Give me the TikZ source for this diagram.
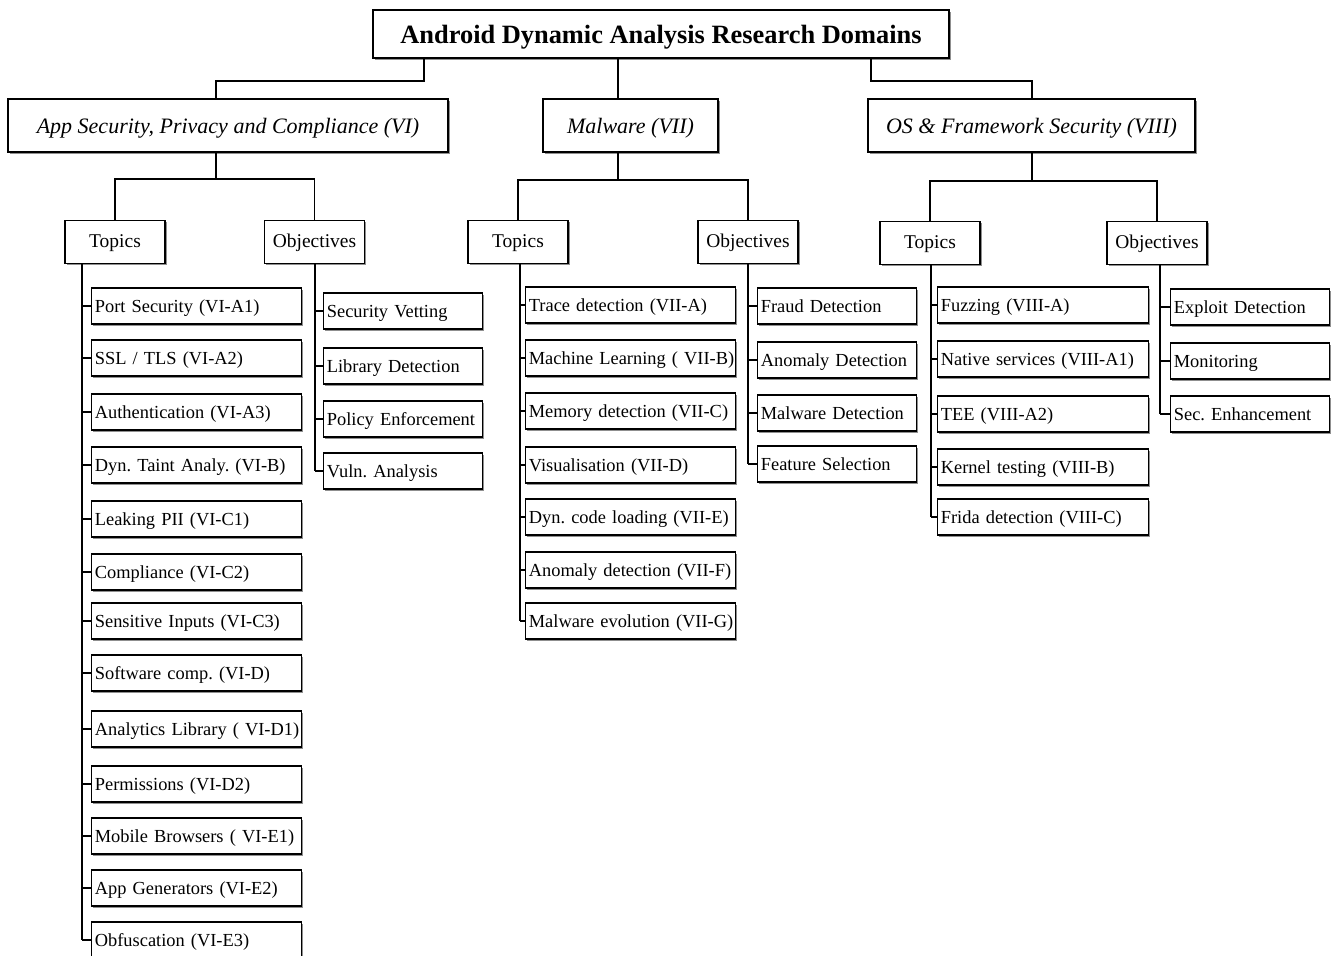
\documentclass[tikz,border=0pt]{standalone}
\usepackage{fontspec}
\setmainfont{Liberation Serif}
\usetikzlibrary{shadows}
\frenchspacing

\tikzset{
  box/.style={draw, fill=white, line width=0.8pt,
    drop shadow={shadow xshift=1.2pt, shadow yshift=-1.2pt, fill=black!55, opacity=0.8},
    font=\fontsize{13.8}{16}\selectfont},
  domainbox/.style={box, minimum height=39.75pt, text height=14.5pt, text depth=3pt,
    font=\fontsize{16.5}{19}\selectfont\itshape},
  groupbox/.style={box, minimum width=75pt, minimum height=32.25pt, text height=10.5pt, text depth=3pt,
    font=\fontsize{14.6}{17}\selectfont},
  leafbox/.style={box, anchor=west, minimum height=27pt, text height=12pt, text depth=2pt,
    text width=#1, align=left, inner xsep=2.5pt},
  link/.style={line width=0.8pt},
}

\begin{document}
\begin{tikzpicture}[x=0.75pt, y=-0.75pt]
                \useasboundingbox (0,0) rectangle (1336,956);

                % Root:
                \node[box, minimum width=432pt, minimum height=36pt, text height=17pt, text depth=2pt,
                      font=\fontsize{19.8}{22}\selectfont\bfseries] (title) at (661,34)
                      {Android Dynamic Analysis Research Domains};

                % Domains:
                \node[domainbox, minimum width=330pt] (sec) at (228,125.5) {App Security, Privacy and Compliance (VI)};
                \node[domainbox, minimum width=131.25pt] (mal) at (630.5,125.5) {Malware (VII)};
                \node[domainbox, minimum width=245.25pt] (os) at (1031.5,125.5) {OS \& Framework Security (VIII)};

                \draw[link] (424,0 |- title.south) |- (216,81) -- (216,0 |- sec.north);
                \draw[link] (618,0 |- title.south) -- (618,0 |- mal.north);
                \draw[link] (871,0 |- title.south) |- (1032,81) -- (1032,0 |- os.north);

                % Topics / objectives:
                \node[groupbox] (secT) at (115,242) {Topics};
                \node[groupbox] (secO) at (314.5,242) {Objectives};
                \node[groupbox] (malT) at (518,242) {Topics};
                \node[groupbox] (malO) at (748,242) {Objectives};
                \node[groupbox] (osT) at (930,243) {Topics};
                \node[groupbox] (osO) at (1157,243) {Objectives};

                \draw[link] (216,0 |- sec.south) -- (216,179) -| (secT.north);
                \draw[link] (216,179) -| (secO.north);
                \draw[link] (618,0 |- mal.south) -- (618,180) -| (malT.north);
                \draw[link] (618,180) -| (malO.north);
                \draw[link] (1032,0 |- os.south) -- (1032,181) -| (osT.north);
                \draw[link] (1032,181) -| (osO.north);

                % App security topics:
                \foreach \y/\t [count=\i] in {306/{Port Security (VI-A1)}, 358/{SSL / TLS (VI-A2)},
                    412/{Authentication (VI-A3)}, 465/{Dyn. Taint Analy. (VI-B)}, 519/{Leaking PII (VI-C1)},
                    572/{Compliance (VI-C2)}, 621/{Sensitive Inputs (VI-C3)}, 673/{Software comp. (VI-D)},
                    729/{Analytics Library ( VI-D1)}, 784/{Permissions (VI-D2)},
                    836/{Mobile Browsers ( VI-E1)}, 888/{App Generators (VI-E2)}, 940/{Obfuscation (VI-E3)}}
                {
                    \node[leafbox=152.5pt] (secT\i) at (91,\y) {\mbox{\t}};
                    \draw[link] (82,0 |- secT\i.west) -- (secT\i.west);
                }
                \draw[link] (82,0 |- secT.south) -- (82,0 |- secT13.west);

                % App security objectives:
                \foreach \y/\t [count=\i] in {311/{Security Vetting}, 366/{Library Detection},
                    419/{Policy Enforcement}, 471/{Vuln. Analysis}}
                {
                    \node[leafbox=114.25pt] (secO\i) at (323,\y) {\mbox{\t}};
                    \draw[link] (315,0 |- secO\i.west) -- (secO\i.west);
                }
                \draw[link] (315,0 |- secO.south) -- (315,0 |- secO4.west);

                % Malware topics:
                \foreach \y/\t [count=\i] in {305/{Trace detection (VII-A)}, 358/{Machine Learning ( VII-B)},
                    411/{Memory detection (VII-C)}, 465/{Visualisation (VII-D)}, 517/{Dyn. code loading (VII-E)},
                    570/{Anomaly detection (VII-F)}, 621/{Malware evolution (VII-G)}}
                {
                    \node[leafbox=152.5pt] (malT\i) at (525,\y) {\mbox{\t}};
                    \draw[link] (520,0 |- malT\i.west) -- (malT\i.west);
                }
                \draw[link] (520,0 |- malT.south) -- (520,0 |- malT7.west);

                % Malware objectives:
                \foreach \y/\t [count=\i] in {306/{Fraud Detection}, 360/{Anomaly Detection},
                    413/{Malware Detection}, 464/{Feature Selection}}
                {
                    \node[leafbox=114.25pt] (malO\i) at (757,\y) {\mbox{\t}};
                    \draw[link] (748,0 |- malO\i.west) -- (malO\i.west);
                }
                \draw[link] (748,0 |- malO.south) -- (748,0 |- malO4.west);

                % OS topics:
                \foreach \y/\t [count=\i] in {305/{Fuzzing (VIII-A)}, 359/{Native services (VIII-A1)},
                    414/{TEE (VIII-A2)}, 467/{Kernel testing (VIII-B)}, 517/{Frida detection (VIII-C)}}
                {
                    \node[leafbox=153.25pt] (osT\i) at (937,\y) {\mbox{\t}};
                    \draw[link] (931,0 |- osT\i.west) -- (osT\i.west);
                }
                \draw[link] (931,0 |- osT.south) -- (931,0 |- osT5.west);

                % OS objectives:
                \foreach \y/\t [count=\i] in {307/{Exploit Detection}, 361/{Monitoring}, 414/{Sec. Enhancement}}
                {
                    \node[leafbox=114.25pt] (osO\i) at (1170,\y) {\mbox{\t}};
                    \draw[link] (1160,0 |- osO\i.west) -- (osO\i.west);
                }
                \draw[link] (1160,0 |- osO.south) -- (1160,0 |- osO3.west);
            \end{tikzpicture}
\end{document}
